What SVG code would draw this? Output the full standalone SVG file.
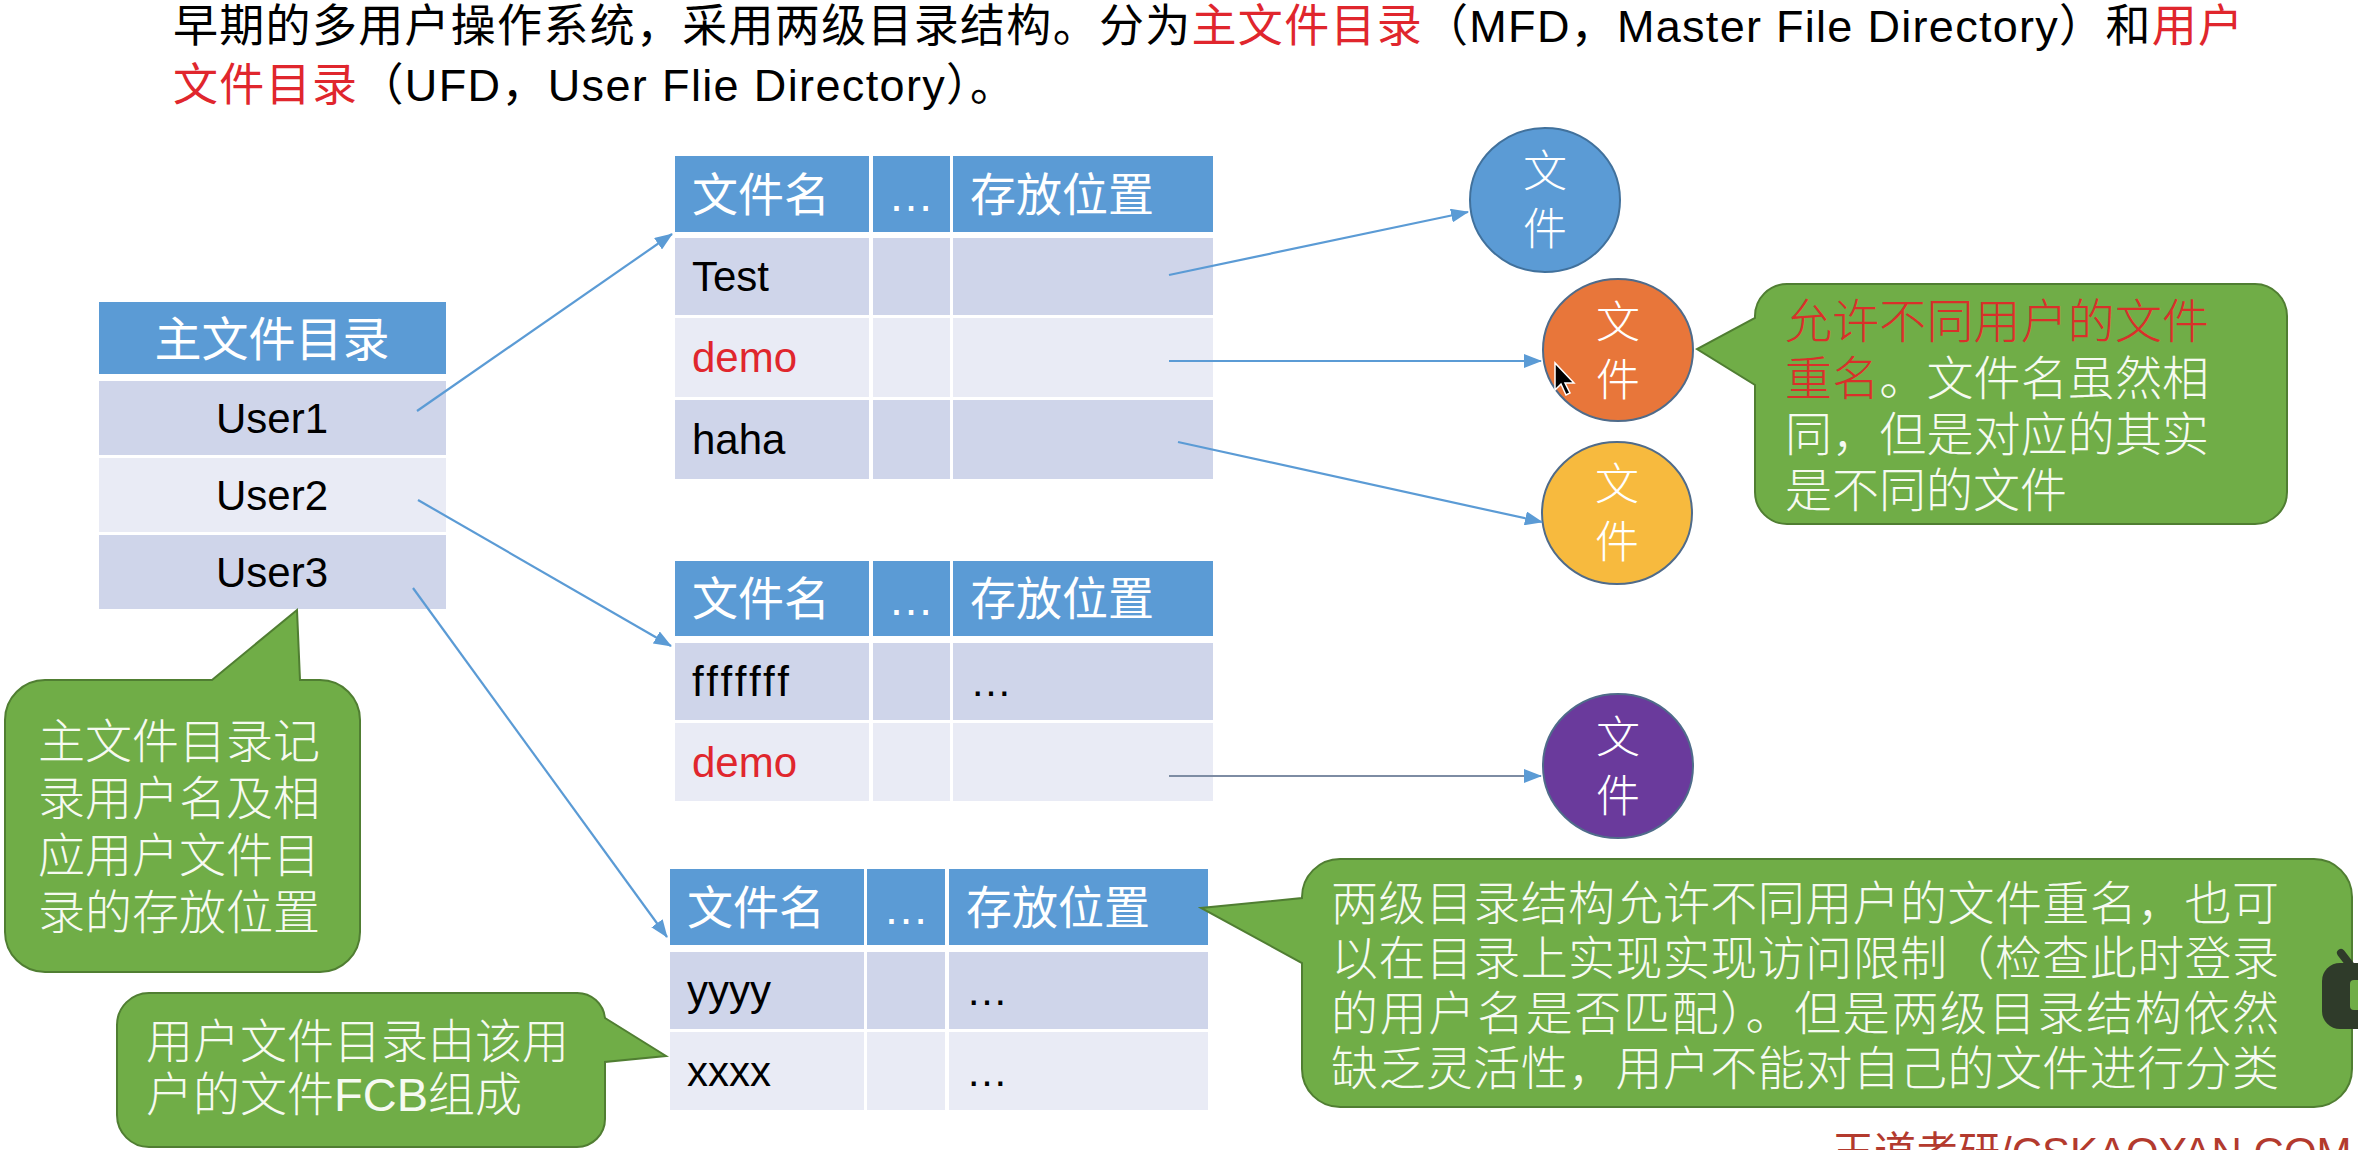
<svg xmlns="http://www.w3.org/2000/svg" width="2358" height="1150" viewBox="0 0 2358 1150">
  <defs>
    <marker id="arrow" markerUnits="userSpaceOnUse" markerWidth="18" markerHeight="14" refX="17" refY="7" orient="auto">
      <path d="M0,0 L18,7 L0,14 Z" fill="#5B9BD5"/>
    </marker>
  </defs>
  <style>
    .txt { font-family: "Liberation Sans", "Noto Sans CJK SC", sans-serif; }
    .hd { fill: #5B9BD5; }
    .r1 { fill: #CFD5EA; }
    .r2 { fill: #E9EBF5; }
    .ht { font-size: 46px; fill: #FFFFFF; }
    .dt { font-size: 42px; fill: #000000; }
    .red { fill: #E0262D; }
    .cred { fill: #D9302A; }
    .conn { stroke: #5B9BD5; stroke-width: 2.2; fill: none; marker-end: url(#arrow); }
    .callout { fill: #70AD47; stroke: #507E32; stroke-width: 2; }
    .ct { font-size: 47px; fill: #F6FAF1; font-weight: 300; }
    .ft { font-size: 44px; fill: #FFFFFF; font-weight: 300; }
    .file { stroke-width: 2; }
  </style>

  <rect width="2358" height="1150" fill="#FFFFFF"/>

  <!-- heading -->
  <g id="title" class="txt" font-size="45" fill="#000000">
    <text x="173" y="42" textLength="2070" lengthAdjust="spacing">早期的多用户操作系统，采用两级目录结构。分为<tspan class="red">主文件目录</tspan>（MFD，Master File Directory）和<tspan class="red">用户</tspan></text>
    <text x="173" y="101" textLength="842" lengthAdjust="spacing"><tspan class="red">文件目录</tspan>（UFD，User Flie Directory）。</text>
  </g>

  <!-- master file directory -->
  <g id="mfd" class="txt">
    <rect class="hd" x="99" y="302" width="347" height="72"/>
    <rect class="r1" x="99" y="381" width="347" height="74"/>
    <rect class="r2" x="99" y="458" width="347" height="74"/>
    <rect class="r1" x="99" y="535" width="347" height="74"/>
    <text x="272" y="356" text-anchor="middle" font-size="47" fill="#FFFFFF">主文件目录</text>
    <text class="dt" x="272" y="433" text-anchor="middle">User1</text>
    <text class="dt" x="272" y="510" text-anchor="middle">User2</text>
    <text class="dt" x="272" y="587" text-anchor="middle">User3</text>
  </g>

  <!-- user file directory of User1 -->
  <g id="ufd1" class="txt">
    <rect class="hd" x="675" y="156" width="194" height="76"/>
    <rect class="hd" x="873" y="156" width="77" height="76"/>
    <rect class="hd" x="953" y="156" width="260" height="76"/>
    <rect class="r1" x="675" y="238" width="194" height="77"/>
    <rect class="r1" x="873" y="238" width="77" height="77"/>
    <rect class="r1" x="953" y="238" width="260" height="77"/>
    <rect class="r2" x="675" y="318" width="194" height="79"/>
    <rect class="r2" x="873" y="318" width="77" height="79"/>
    <rect class="r2" x="953" y="318" width="260" height="79"/>
    <rect class="r1" x="675" y="400" width="194" height="79"/>
    <rect class="r1" x="873" y="400" width="77" height="79"/>
    <rect class="r1" x="953" y="400" width="260" height="79"/>
    <text class="ht" x="692" y="211">文件名</text>
    <text class="ht" x="911" y="211" text-anchor="middle" font-size="42">…</text>
    <text class="ht" x="970" y="211">存放位置</text>
    <text class="dt" x="692" y="291">Test</text>
    <text class="dt red" x="692" y="372">demo</text>
    <text class="dt" x="692" y="454">haha</text>
  </g>

  <!-- user file directory of User2 -->
  <g id="ufd2" class="txt">
    <rect class="hd" x="675" y="561" width="194" height="75"/>
    <rect class="hd" x="873" y="561" width="77" height="75"/>
    <rect class="hd" x="953" y="561" width="260" height="75"/>
    <rect class="r1" x="675" y="643" width="194" height="77"/>
    <rect class="r1" x="873" y="643" width="77" height="77"/>
    <rect class="r1" x="953" y="643" width="260" height="77"/>
    <rect class="r2" x="675" y="723" width="194" height="78"/>
    <rect class="r2" x="873" y="723" width="77" height="78"/>
    <rect class="r2" x="953" y="723" width="260" height="78"/>
    <text class="ht" x="692" y="615">文件名</text>
    <text class="ht" x="911" y="615" text-anchor="middle" font-size="42">…</text>
    <text class="ht" x="970" y="615">存放位置</text>
    <text class="dt" x="692" y="696" textLength="97" lengthAdjust="spacing">fffffff</text>
    <text class="dt" x="970" y="696">…</text>
    <text class="dt red" x="692" y="777">demo</text>
  </g>

  <!-- user file directory of User3 -->
  <g id="ufd3" class="txt">
    <rect class="hd" x="670" y="869" width="194" height="76"/>
    <rect class="hd" x="867" y="869" width="78" height="76"/>
    <rect class="hd" x="949" y="869" width="259" height="76"/>
    <rect class="r1" x="670" y="952" width="194" height="77"/>
    <rect class="r1" x="867" y="952" width="78" height="77"/>
    <rect class="r1" x="949" y="952" width="259" height="77"/>
    <rect class="r2" x="670" y="1032" width="194" height="78"/>
    <rect class="r2" x="867" y="1032" width="78" height="78"/>
    <rect class="r2" x="949" y="1032" width="259" height="78"/>
    <text class="ht" x="687" y="924">文件名</text>
    <text class="ht" x="906" y="924" text-anchor="middle" font-size="42">…</text>
    <text class="ht" x="966" y="924">存放位置</text>
    <text class="dt" x="687" y="1005">yyyy</text>
    <text class="dt" x="966" y="1005">…</text>
    <text class="dt" x="687" y="1086">xxxx</text>
    <text class="dt" x="966" y="1086">…</text>
  </g>

  <!-- files -->
  <g id="file-blue" class="txt">
    <ellipse class="file" cx="1545" cy="200" rx="75" ry="72" fill="#5B9BD5" stroke="#41719C"/>
    <text class="ft" x="1545" y="187" text-anchor="middle">文</text>
    <text class="ft" x="1545" y="245" text-anchor="middle">件</text>
  </g>
  <g id="file-orange" class="txt">
    <ellipse class="file" cx="1618" cy="350" rx="75" ry="71" fill="#E8763A" stroke="#4F6B8A"/>
    <text class="ft" x="1618" y="338" text-anchor="middle">文</text>
    <text class="ft" x="1618" y="396" text-anchor="middle">件</text>
  </g>
  <g id="file-yellow" class="txt">
    <ellipse class="file" cx="1617" cy="513" rx="75" ry="71" fill="#F7BA3E" stroke="#4F6B8A"/>
    <text class="ft" x="1617" y="500" text-anchor="middle">文</text>
    <text class="ft" x="1617" y="558" text-anchor="middle">件</text>
  </g>
  <g id="file-purple" class="txt">
    <ellipse class="file" cx="1618" cy="766" rx="75" ry="72" fill="#6A3A9C" stroke="#4F6B8A"/>
    <text class="ft" x="1618" y="753" text-anchor="middle">文</text>
    <text class="ft" x="1618" y="812" text-anchor="middle">件</text>
  </g>

  <!-- connectors -->
  <g id="connectors">
    <line class="conn" x1="417" y1="411" x2="672" y2="234"/>
    <line class="conn" x1="418" y1="500" x2="671" y2="646"/>
    <line class="conn" x1="413" y1="588" x2="667" y2="937"/>
    <line class="conn" x1="1169" y1="275" x2="1468" y2="212"/>
    <line class="conn" x1="1169" y1="361" x2="1541" y2="361"/>
    <line class="conn" x1="1178" y1="442" x2="1542" y2="522"/>
    <line class="conn" x1="1169" y1="776" x2="1541" y2="776" style="stroke:#7D8CA3"/>
  </g>

  <!-- callout: master directory note -->
  <g id="note-mfd" class="txt">
    <path class="callout" d="M45,680 L212,680 L297,610 L300,680 L320,680 A40,40 0 0 1 360,720 L360,932 A40,40 0 0 1 320,972 L45,972 A40,40 0 0 1 5,932 L5,720 A40,40 0 0 1 45,680 Z"/>
    <text class="ct" x="38" y="758">主文件目录记</text>
    <text class="ct" x="38" y="815">录用户名及相</text>
    <text class="ct" x="38" y="872">应用户文件目</text>
    <text class="ct" x="38" y="929">录的存放位置</text>
  </g>

  <!-- callout: user directory note -->
  <g id="note-ufd" class="txt">
    <path class="callout" d="M149,993 L577,993 A28,28 0 0 1 605,1018 L666,1056 L605,1062 L605,1119 A28,28 0 0 1 577,1147 L149,1147 A32,32 0 0 1 117,1115 L117,1025 A32,32 0 0 1 149,993 Z"/>
    <text class="ct" x="146" y="1058">用户文件目录由该用</text>
    <text class="ct" x="146" y="1111">户的文件FCB组成</text>
  </g>

  <!-- callout: same names -->
  <g id="note-same-name" class="txt">
    <path class="callout" d="M1787,284 L2255,284 A32,32 0 0 1 2287,316 L2287,492 A32,32 0 0 1 2255,524 L1787,524 A32,32 0 0 1 1755,492 L1755,385 L1697,349 L1755,318 L1755,316 A32,32 0 0 1 1787,284 Z"/>
    <text class="ct" x="1785" y="338" textLength="424" lengthAdjust="spacing"><tspan class="cred">允许不同用户的文件</tspan></text>
    <text class="ct" x="1785" y="395" textLength="424" lengthAdjust="spacing"><tspan class="cred">重名</tspan>。文件名虽然相</text>
    <text class="ct" x="1785" y="451" textLength="424" lengthAdjust="spacing">同，但是对应的其实</text>
    <text class="ct" x="1785" y="507">是不同的文件</text>
  </g>

  <!-- callout: two-level summary -->
  <g id="note-summary" class="txt">
    <path class="callout" d="M1340,859 L2314,859 A38,38 0 0 1 2352,897 L2352,1069 A38,38 0 0 1 2314,1107 L1340,1107 A38,38 0 0 1 1302,1069 L1302,963 L1201,908 L1302,898 L1302,897 A38,38 0 0 1 1340,859 Z"/>
    <text class="ct" x="1331" y="920" textLength="948" lengthAdjust="spacing">两级目录结构允许不同用户的文件重名，也可</text>
    <text class="ct" x="1331" y="975" textLength="948" lengthAdjust="spacing">以在目录上实现实现访问限制（检查此时登录</text>
    <text class="ct" x="1331" y="1030" textLength="948" lengthAdjust="spacing">的用户名是否匹配）。但是两级目录结构依然</text>
    <text class="ct" x="1331" y="1085" textLength="948" lengthAdjust="spacing">缺乏灵活性，用户不能对自己的文件进行分类</text>
  </g>

  <!-- pointer over the orange file -->
  <path d="M1555,363 L1555,390 L1561,384 L1566,395 L1570,393 L1565,383 L1574,383 Z" fill="#000000" stroke="#FFFFFF" stroke-width="1.5"/>

  <!-- player badge at the right edge -->
  <g id="badge">
    <line x1="2341" y1="953" x2="2351" y2="966" stroke="#2F3B2A" stroke-width="8" stroke-linecap="round"/>
    <rect x="2322" y="963" width="60" height="66" rx="18" fill="#2F3B2A"/>
    <rect x="2350" y="980" width="12" height="30" rx="4" fill="#70AD47"/>
  </g>

  <!-- footer mark -->
  <text class="txt" x="1832" y="1167" font-size="42" fill="#B33A2E">王道考研/CSKAOYAN.COM</text>
</svg>
